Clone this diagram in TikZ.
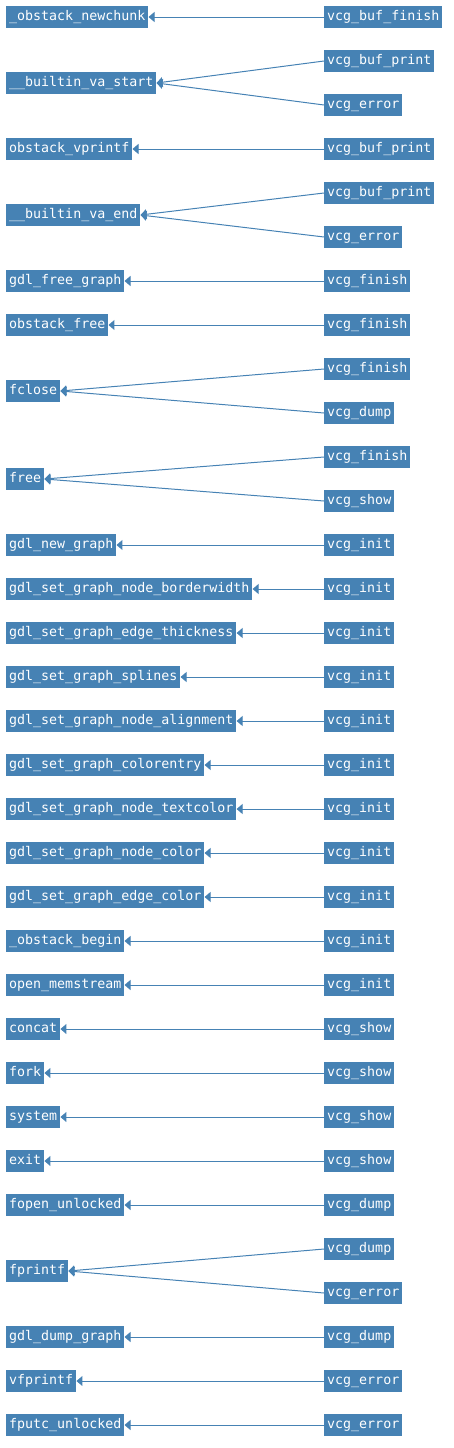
\documentclass[tikz,border=0pt]{standalone}
\usepackage{fontspec}
\newfontfamily\codefont{DejaVu Sans Mono}
\usepackage{xcolor}
\usetikzlibrary{arrows.meta}
\definecolor{steelblue}{HTML}{4682B4}

\tikzset{
  fn/.style={fill=steelblue, text=white, anchor=west, inner xsep=3pt, inner ysep=0pt,
    minimum height=22pt, text height=9.5pt, text depth=3pt,
    font=\codefont\fontsize{13.3}{16}\selectfont},
  call/.style={draw=steelblue, line width=1pt, -{Triangle[length=6pt, width=10pt]}}
}

\begin{document}
\begin{tikzpicture}[x=1pt, y=-1pt]
    \useasboundingbox (0,0) rectangle (453,1448);
    % callees on the left
    \node[fn] (newchunk) at (6,17) {\_obstack\_newchunk};
    \node[fn] (vastart) at (6,83) {\_\_builtin\_va\_start};
    \node[fn] (vprintf) at (6,149) {obstack\_vprintf};
    \node[fn] (vaend) at (6,215) {\_\_builtin\_va\_end};
    \node[fn] (freegraph) at (6,281) {gdl\_free\_graph};
    \node[fn] (obfree) at (6,325) {obstack\_free};
    \node[fn] (fclose) at (6,391) {fclose};
    \node[fn] (free) at (6,479) {free};
    \node[fn] (newgraph) at (6,545) {gdl\_new\_graph};
    \node[fn] (borderwidth) at (6,589) {gdl\_set\_graph\_node\_borderwidth};
    \node[fn] (thickness) at (6,633) {gdl\_set\_graph\_edge\_thickness};
    \node[fn] (splines) at (6,677) {gdl\_set\_graph\_splines};
    \node[fn] (alignment) at (6,721) {gdl\_set\_graph\_node\_alignment};
    \node[fn] (colorentry) at (6,765) {gdl\_set\_graph\_colorentry};
    \node[fn] (textcolor) at (6,809) {gdl\_set\_graph\_node\_textcolor};
    \node[fn] (nodecolor) at (6,853) {gdl\_set\_graph\_node\_color};
    \node[fn] (edgecolor) at (6,897) {gdl\_set\_graph\_edge\_color};
    \node[fn] (obbegin) at (6,941) {\_obstack\_begin};
    \node[fn] (memstream) at (6,985) {open\_memstream};
    \node[fn] (concat) at (6,1029) {concat};
    \node[fn] (fork) at (6,1073) {fork};
    \node[fn] (system) at (6,1117) {system};
    \node[fn] (exit) at (6,1161) {exit};
    \node[fn] (fopen) at (6,1205) {fopen\_unlocked};
    \node[fn] (fprintf) at (6,1271) {fprintf};
    \node[fn] (dumpgraph) at (6,1337) {gdl\_dump\_graph};
    \node[fn] (vfprintf) at (6,1381) {vfprintf};
    \node[fn] (fputc) at (6,1425) {fputc\_unlocked};

    % callers on the right
    \node[fn] (bfinish) at (324,17) {vcg\_buf\_finish};
    \node[fn] (bprintA) at (324,61) {vcg\_buf\_print};
    \node[fn] (errA) at (324,105) {vcg\_error};
    \node[fn] (bprintB) at (324,149) {vcg\_buf\_print};
    \node[fn] (bprintC) at (324,193) {vcg\_buf\_print};
    \node[fn] (errB) at (324,237) {vcg\_error};
    \node[fn] (finA) at (324,281) {vcg\_finish};
    \node[fn] (finB) at (324,325) {vcg\_finish};
    \node[fn] (finC) at (324,369) {vcg\_finish};
    \node[fn] (dumpA) at (324,413) {vcg\_dump};
    \node[fn] (finD) at (324,457) {vcg\_finish};
    \node[fn] (showA) at (324,501) {vcg\_show};
    \foreach \n/\y in {initA/545, initB/589, initC/633, initD/677, initE/721,
                       initF/765, initG/809, initH/853, initI/897, initJ/941, initK/985}
      \node[fn] (\n) at (324,\y) {vcg\_init};
    \node[fn] (showB) at (324,1029) {vcg\_show};
    \node[fn] (showC) at (324,1073) {vcg\_show};
    \node[fn] (showD) at (324,1117) {vcg\_show};
    \node[fn] (showE) at (324,1161) {vcg\_show};
    \node[fn] (dumpB) at (324,1205) {vcg\_dump};
    \node[fn] (dumpC) at (324,1249) {vcg\_dump};
    \node[fn] (errC) at (324,1293) {vcg\_error};
    \node[fn] (dumpD) at (324,1337) {vcg\_dump};
    \node[fn] (errD) at (324,1381) {vcg\_error};
    \node[fn] (errE) at (324,1425) {vcg\_error};

    % calls
    \foreach \a/\b in {bfinish/newchunk, bprintA/vastart, errA/vastart, bprintB/vprintf,
        bprintC/vaend, errB/vaend, finA/freegraph, finB/obfree, finC/fclose, dumpA/fclose,
        finD/free, showA/free, initA/newgraph, initB/borderwidth, initC/thickness,
        initD/splines, initE/alignment, initF/colorentry, initG/textcolor, initH/nodecolor,
        initI/edgecolor, initJ/obbegin, initK/memstream, showB/concat, showC/fork,
        showD/system, showE/exit, dumpB/fopen, dumpC/fprintf, errC/fprintf,
        dumpD/dumpgraph, errD/vfprintf, errE/fputc}
      \draw[call] (\a.west) -- (\b.east);
\end{tikzpicture}
\end{document}
